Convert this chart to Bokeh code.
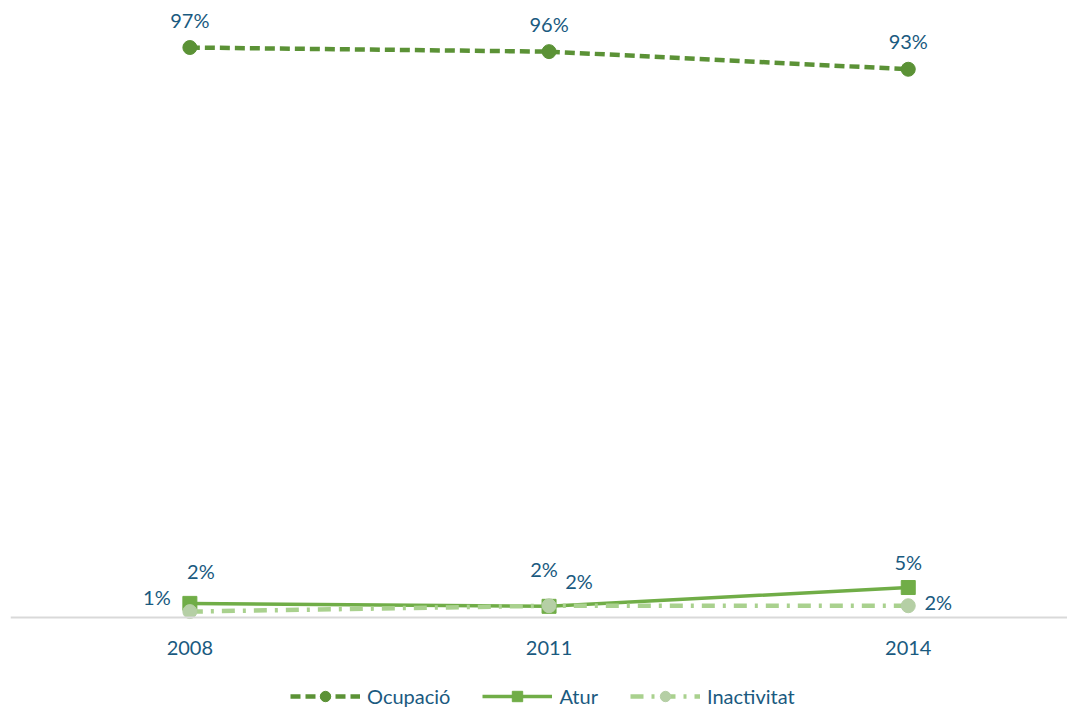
from bokeh.plotting import figure
from bokeh.models import ColumnDataSource, Legend, LegendItem, Range1d, LabelSet, Span
from bokeh.embed import file_html
from bokeh.resources import INLINE
from bokeh.core.properties import value

years = [2008, 2011, 2014]
year_labels = ["2008", "2011", "2014"]
ocupacio = [97.0, 96.3, 93.3]
atur = [2.4, 1.9, 5.1]
inactivitat = [1.0, 2.0, 2.0]
series_names = ["Ocupació", "Atur", "Inactivitat"]

FONT = "Lato"
TXT = "#1A5A80"
C_OCU = "#5B9236"
C_ATU = "#70AD47"
C_INA_L = "#A9D18E"
C_INA_M = "#B5CFA5"

p = figure(width=1067, height=709, output_backend="svg", toolbar_location=None,
           x_range=Range1d(2006.502, 2015.33), y_range=Range1d(-15.66, 103.3),
           min_border_left=10, min_border_right=0, min_border_top=10, min_border_bottom=0)
p.outline_line_color = None
p.grid.visible = False
p.xaxis.visible = False
p.yaxis.visible = False
p.background_fill_color = "white"

# baseline (category axis line)
p.add_layout(Span(location=0, dimension="width", line_color="#D9D9D9", line_width=2))

# category labels
ysrc = ColumnDataSource(dict(x=years, y=[0] * len(years), t=year_labels))
p.add_layout(LabelSet(x="x", y="y", text="t", source=ysrc, y_offset=-31,
                      text_align="center", text_baseline="middle",
                      text_font=value(FONT), text_font_size="20px", text_color=TXT))

def fmt(vals):
    return [f"{round(v)}%" for v in vals]

# lines
r1l = p.line(years, ocupacio, color=C_OCU, line_width=4.5, line_dash="10 5")
r1m = p.scatter(years, ocupacio, marker="circle", size=14, color=C_OCU)
r2l = p.line(years, atur, color=C_ATU, line_width=3.5)
r2m = p.scatter(years, atur, marker="square", size=14, color=C_ATU)
r3l = p.line(years, inactivitat, color=C_INA_L, line_width=4.5, line_dash="13 8 3 8")
r3m = p.scatter(years, inactivitat, marker="circle", size=14, color=C_INA_M)

# label offsets (pixels)
off = {
    "Ocupació": ([0, 0, 0], [28, 28, 28]),
    "Atur": ([11, -5, 0], [32, 37, 26]),
    "Inactivitat": ([-33, 30, 30], [15, 25, 4]),
}
for name, vals in zip(series_names, [ocupacio, atur, inactivitat]):
    dx, dy = off[name]
    src = ColumnDataSource(dict(x=years, y=vals, t=fmt(vals), dx=dx, dy=dy))
    p.add_layout(LabelSet(x="x", y="y", text="t", source=src, x_offset="dx", y_offset="dy",
                          text_align="center", text_baseline="middle",
                          text_font=value(FONT), text_font_size="20px", text_color=TXT))

legend = Legend(items=[
    LegendItem(label=series_names[0], renderers=[r1l, r1m]),
    LegendItem(label=series_names[1], renderers=[r2l, r2m]),
    LegendItem(label=series_names[2], renderers=[r3l, r3m]),
], orientation="horizontal", location=(280, 0), glyph_width=70, glyph_height=26,
    label_text_font=FONT, label_text_font_size="20px", label_text_color=TXT,
    border_line_color=None, background_fill_alpha=0, spacing=32, padding=0, margin=0,
    label_standoff=7)
p.add_layout(legend, "center")

open("out.html", "w").write(file_html(p, INLINE))
